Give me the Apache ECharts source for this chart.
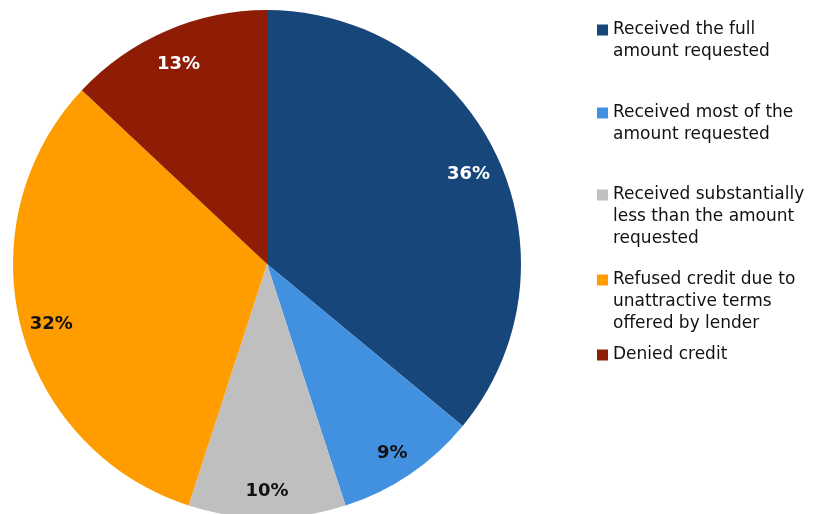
<!DOCTYPE html>
<html>
<head>
<meta charset="utf-8">
<script src="https://cdn.jsdelivr.net/npm/echarts@6/dist/echarts.min.js"></script>
<style>
  html, body { margin: 0; padding: 0; background: #ffffff; }
  #chart { width: 821px; height: 514px; }
</style>
</head>
<body>
<div id="chart"></div>
<script>
// Outcome categories and their shares (%)
const categories = [
  'Received the full amount requested',
  'Received most of the amount requested',
  'Received substantially less than the amount requested',
  'Refused credit due to unattractive terms offered by lender',
  'Denied credit'
];
const shares = [36, 9, 10, 32, 13];
// Legend text, wrapped as in the key
const legendText = [
  'Received the full\namount requested',
  'Received most of the\namount requested',
  'Received substantially\nless than the amount\nrequested',
  'Refused credit due to\nunattractive terms\noffered by lender',
  'Denied credit'
];

const colors = ['#17477A', '#4290E0', '#BFBFBF', '#FF9C00', '#8F1C05'];
const labelColors = ['#ffffff', '#111111', '#111111', '#111111', '#ffffff'];

const R = 254;
const center = [267, 264];

const pieData = categories.map((name, i) => ({
  name,
  value: shares[i],
  itemStyle: { color: colors[i] }
}));

const labelData = categories.map((name, i) => ({
  name,
  value: shares[i],
  itemStyle: { color: 'rgba(0,0,0,0)' },
  label: { color: labelColors[i] }
}));

// One legend block per entry. The legend centres its swatch on the text block,
// so blank lines are put in front to keep the swatch beside the first line.
const LINE_H = 22;
const swatchCenters = [30, 113, 195, 280, 355];
const legends = categories.map((name, i) => {
  const n = legendText[i].split('\n').length;
  const padded = '\u00a0\n'.repeat(n - 1) + legendText[i];
  return {
    data: [name],
    left: 597,
    top: swatchCenters[i] - (2 * n - 1) * LINE_H / 2,
    padding: 0,
    orient: 'vertical',
    icon: 'rect',
    itemWidth: 11,
    itemHeight: 11,
    itemGap: 0,
    selectedMode: false,
    formatter: () => padded,
    textStyle: {
      fontFamily: 'DejaVu Sans',
      fontSize: 17,
      lineHeight: LINE_H,
      color: '#111111'
    }
  };
});

const chart = echarts.init(document.getElementById('chart'), null, { renderer: 'canvas' });
chart.setOption({
  animation: false,
  backgroundColor: '#ffffff',
  legend: legends,
  series: [
    {
      type: 'pie',
      center: center,
      radius: [0, R],
      startAngle: 90,
      clockwise: true,
      data: pieData,
      label: { show: false },
      labelLine: { show: false },
      itemStyle: { borderWidth: 0 },
      silent: true
    },
    {
      // transparent ring that carries the percentage labels near the rim
      type: 'pie',
      center: center,
      radius: [R * 0.73, R],
      startAngle: 90,
      clockwise: true,
      data: labelData,
      silent: true,
      labelLine: { show: false },
      label: {
        show: true,
        position: 'inside',
        formatter: '{c}%',
        fontFamily: 'DejaVu Sans',
        fontWeight: 'bold',
        fontSize: 18,
        offset: [0, 5]
      }
    }
  ]
});
</script>
</body>
</html>
